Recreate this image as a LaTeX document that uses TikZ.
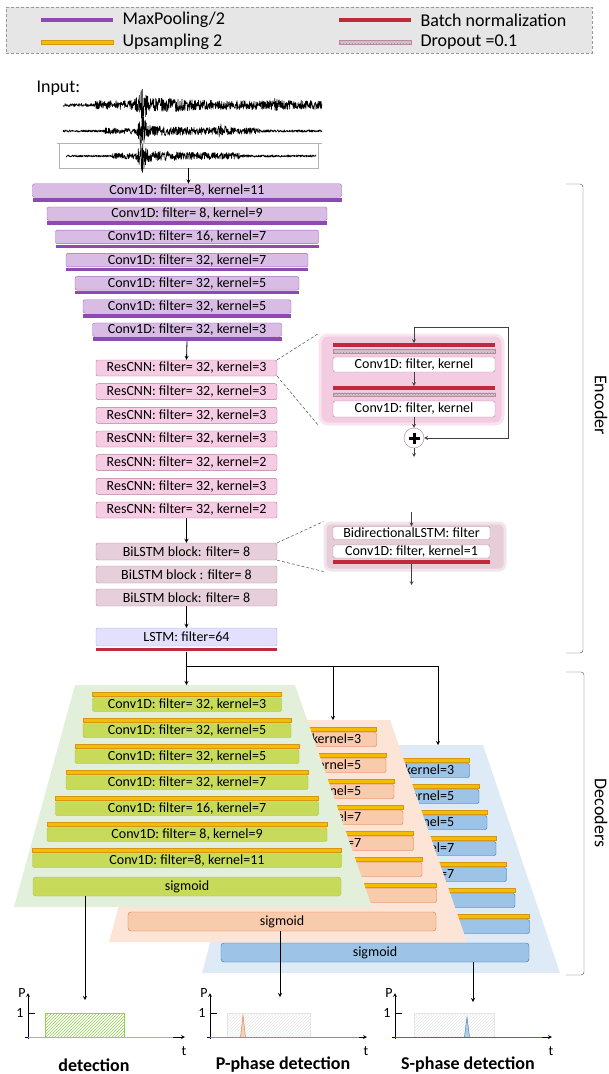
\documentclass[tikz,border=0pt]{standalone}
\usepackage{fontspec}
\setmainfont{Carlito}
\usetikzlibrary{patterns,calc}

\begin{document}
\begin{tikzpicture}[x=1pt, y=-1pt, >=stealth,
    declare function={
        wA(\x)=1.6+3*(\x>95)+11*exp(-min(((\x-142)/5)*((\x-142)/5),20))+2.5*exp(-min(((\x-165)/25)*((\x-165)/25),20))+2*exp(-min(((\x-275)/4)*((\x-275)/4),20));
        wB(\x)=1.1+2*(\x>105)*(\x<260)+12*exp(-min(((\x-142)/4)*((\x-142)/4),20))+3*(\x>140)*exp(-(\x-140)/40)+4.5*exp(-min(((\x-222)/4)*((\x-222)/4),20));
        wC(\x)=1+2*(\x>112)*(\x<240)+12*exp(-min(((\x-142)/4)*((\x-142)/4),20))+3*(\x>140)*exp(-(\x-140)/45);
    },
    lbl/.style={font=\fontsize{14}{16}\selectfont},
    big/.style={font=\fontsize{18}{20}\selectfont},
    blk/.style={rounded corners=2pt, inner sep=0pt, lbl},
    encbox/.style={blk, draw=encD, fill=encF, minimum height=13.5},
    resbox/.style={blk, draw=resD, fill=resF, minimum height=16, minimum width=181},
    bilbox/.style={blk, draw=bilD, fill=bilF, minimum height=17, minimum width=181},
    subbox/.style={blk, draw=resD, fill=white, minimum height=13},
    strip/.style={inner sep=0pt, minimum height=3.5},
    mpbar/.style={strip, fill=mpC},
    bnbar/.style={strip, fill=bnC},
    dobar/.style={strip, draw=bilD, preaction={fill=doF}, pattern=crosshatch dots, pattern color=gray!80},
    upbar/.style={strip, draw=upD, fill=upC},
    arr/.style={->, line width=0.8pt},
    subarr/.style={->, line width=0.7pt, black!75},
    zoomline/.style={densely dashed, black!70, line width=0.5pt},
    trace/.style={line width=0.6pt, line join=round}
]
    % Colours
    \definecolor{legF}{RGB}{231,230,230}
    \definecolor{encF}{RGB}{216,188,228}
    \definecolor{encD}{RGB}{160,100,190}
    \definecolor{mpC}{RGB}{142,74,178}
    \definecolor{resF}{RGB}{246,204,228}
    \definecolor{resD}{RGB}{180,120,155}
    \definecolor{resPan}{RGB}{244,204,226}
    \definecolor{bilF}{RGB}{230,207,218}
    \definecolor{bilD}{RGB}{178,140,160}
    \definecolor{bilPan}{RGB}{230,205,216}
    \definecolor{lstmF}{RGB}{226,224,252}
    \definecolor{lstmD}{RGB}{180,165,225}
    \definecolor{bnC}{RGB}{192,40,60}
    \definecolor{doF}{RGB}{215,195,205}
    \definecolor{upC}{RGB}{244,190,0}
    \definecolor{upD}{RGB}{214,150,20}
    \definecolor{gPan}{RGB}{226,239,218}
    \definecolor{gF}{RGB}{200,218,90}
    \definecolor{gD}{RGB}{165,192,60}
    \definecolor{gLine}{RGB}{146,208,80}
    \definecolor{oPan}{RGB}{252,228,214}
    \definecolor{oF}{RGB}{248,203,173}
    \definecolor{oD}{RGB}{222,120,60}
    \definecolor{bPan}{RGB}{222,235,247}
    \definecolor{bF}{RGB}{157,195,230}
    \definecolor{bD}{RGB}{46,117,182}

    \useasboundingbox (0,0) rectangle (609,1074);

    % 1. Legend
    \node[draw=gray!80, densely dashed, fill=legF, minimum width=586, minimum height=46, inner sep=0pt] (legend) at (299,30) {};
    \node[mpbar, minimum width=72] (lgmpbar) at (77,20) {};
    \node[big, anchor=west] (lgmp) at (119,20) {MaxPooling/2};
    \node[upbar, minimum width=72] (lgupbar) at (77,42) {};
    \node[big, anchor=west] (lgup) at (119,42) {Upsampling 2};
    \node[bnbar, minimum width=72] (lgbnbar) at (375,20) {};
    \node[big, anchor=west] (lgbn) at (417,20) {Batch normalization};
    \node[dobar, minimum width=72] (lgdobar) at (375,42) {};
    \node[big, anchor=west] (lgdo) at (417,42) {Dropout =0.1};

    % 2. Input traces
    \node[big, anchor=west] (inlab) at (33,88) {Input:};
    \pgfmathsetseed{41}
    \draw[trace] plot[domain=63:322, samples=900] (\x, {105+wA(\x)*rand});
    \draw[trace] plot[domain=63:322, samples=900] (\x, {131+wB(\x)*rand});
    \node[draw=gray!60, minimum width=259, minimum height=25, inner sep=0pt] (wave) at (188.5,155.5) {};
    \draw[gray!60] (57,143) -- (322,143);
    \draw[trace] plot[domain=66:316, samples=900] (\x, {156+wC(\x)*rand});

    % 3. Encoder
    \foreach \w/\txt [count=\i] in {309/{Conv1D: filter=8, kernel=11}, 280/{Conv1D: filter= 8, kernel=9},
            263/{Conv1D: filter= 16, kernel=7}, 242/{Conv1D: filter= 32, kernel=7},
            224/{Conv1D: filter= 32, kernel=5}, 208/{Conv1D: filter= 32, kernel=5},
            189/{Conv1D: filter= 32, kernel=3}} {
        \node[encbox, minimum width=\w] (enc\i) at (187, {190.5+23.2*(\i-1)}) {\txt};
        \node[mpbar, minimum width=\w, anchor=north] (mp\i) at ([yshift=-0.5pt]enc\i.south) {};
    }
    \draw[arr] (wave.south) -- (wave.south |- enc1.north);

    \foreach \k [count=\i] in {3,3,3,3,2,3,2}
        \node[resbox] (res\i) at (186.5, {368+23.67*(\i-1)}) {ResCNN: filter= 32, kernel=\k};
    \draw[arr] (mp7.south) -- (res1.north);

    \node[bilbox] (bil1) at (186.5,551.5) {BiLSTM block: filter= 8};
    \node[bilbox] (bil2) at (186.5,574.5) {BiLSTM block : filter= 8};
    \node[bilbox] (bil3) at (186.5,597.5) {BiLSTM block: filter= 8};
    \draw[arr] (res7.south) -- (bil1.north);

    \node[blk, draw=lstmD, fill=lstmF, minimum width=181, minimum height=18] (lstm) at (186.5,637) {LSTM: filter=64};
    \node[bnbar, minimum width=181, anchor=north] (lstmbn) at ([yshift=-1.5pt]lstm.south) {};
    \draw[arr] (bil3.south) -- (lstm.north);

    % 4. ResCNN detail
    \node[fill=resPan, draw=resPan!55, line width=3pt, rounded corners=8pt, minimum width=183, minimum height=89, inner sep=0pt] (respan) at (411.5,379.5) {};
    \node[bnbar, minimum width=162] (rbn1) at (414,345) {};
    \node[dobar, minimum width=162] (rdo1) at (414,351) {};
    \node[subbox, minimum width=162, minimum height=15] (rc1) at (414,364.5) {Conv1D: filter, kernel};
    \node[bnbar, minimum width=162] (rbn2) at (414,388) {};
    \node[dobar, minimum width=162] (rdo2) at (414,394.5) {};
    \node[subbox, minimum width=162, minimum height=16] (rc2) at (414,409) {Conv1D: filter, kernel};
    \node[circle, draw=resD, fill=white, minimum size=20, inner sep=0pt] (radd) at (414,438) {};
    \draw[line width=3pt] ($(radd)+(-5.5,0)$) -- ($(radd)+(5.5,0)$);
    \draw[line width=3pt] ($(radd)+(0,-5.5)$) -- ($(radd)+(0,5.5)$);
    \coordinate (rin) at (414,327);
    \coordinate (rskip) at (508,327);
    \coordinate (rout) at (414,457);
    \draw[subarr] (rin) -- (rbn1.north);
    \draw[subarr] (rin) -- (rskip) |- (radd.east);
    \draw[subarr] (rc1.south) -- (rbn2.north);
    \draw[subarr] (rc2.south) -- (radd.north);
    \draw[subarr] (radd.south) -- (rout);
    \draw[zoomline] (res1.north east) -- (respan.north west);
    \draw[zoomline] (res1.south east) -- (respan.south west);

    % 5. BiLSTM detail
    \node[fill=bilPan, draw=bilPan!55, line width=3pt, rounded corners=6pt, minimum width=180, minimum height=47, inner sep=0pt] (bilpan) at (415,546.5) {};
    \node[subbox, draw=bilD, minimum width=157] (bl1) at (411.5,533) {BidirectionalLSTM: filter};
    \node[subbox, draw=bilD, minimum width=157] (bl2) at (411.5,551.5) {Conv1D: filter, kernel=1};
    \node[bnbar, minimum width=157] (bbn) at (411.5,562) {};
    \coordinate (bin) at (411.5,512);
    \coordinate (bout) at (411.5,585);
    \draw[subarr] (bin) -- (bl1.north);
    \draw[subarr] (bbn.south) -- (bout);
    \draw[zoomline] (bil1.north east) -- (bilpan.north west);
    \draw[zoomline] (bil1.south east) -- (bilpan.south west);

    % 6. Decoders
    % \decstack{shift}{prefix}{panel}{fill}{border}{panel top}
    \newcommand{\decstack}[6]{
        \begin{scope}[shift={#1}]
            \fill[#3] (75,#6) -- (295,#6) -- (372,907) -- (14,907) -- cycle;
            \foreach \w/\txt [count=\i] in {189/{Conv1D: filter= 32, kernel=3}, 208/{Conv1D: filter= 32, kernel=5},
                    224/{Conv1D: filter= 32, kernel=5}, 242/{Conv1D: filter= 32, kernel=7},
                    263/{Conv1D: filter= 16, kernel=7}, 280/{Conv1D: filter= 8, kernel=9},
                    309/{Conv1D: filter=8, kernel=11}} {
                \node[blk, draw=#5, fill=#4, minimum width=\w, minimum height=14] (#2\i) at (187, {704.5+26*(\i-1)}) {\txt};
                \node[upbar, minimum width=\w, anchor=south] (#2up\i) at ([yshift=1.2pt]#2\i.north) {};
            }
            \node[blk, draw=#5, fill=#4, minimum width=308, minimum height=19, rounded corners=3pt] (#2sig) at (187,886.5) {sigmoid};
        \end{scope}
    }
    \decstack{(188,66)}{b}{bPan}{bF}{bD}{679}
    \decstack{(95,35)}{o}{oPan}{oF}{oD}{685}
    \decstack{(0,0)}{g}{gPan}{gF}{gD}{685}

    \coordinate (split) at (186.5,666);
    \coordinate (gtop) at (186.5,685);
    \coordinate (otop) at (333,720);
    \coordinate (btop) at (438,745);
    \draw[line width=0.8pt] (lstmbn.south) -- (split);
    \draw[arr] (split) -- (gtop);
    \draw[arr] (split) -| (otop);
    \draw[arr] (split) -| (btop);

    % 7. Outputs
    \newcommand{\probaxes}[2]{
        \begin{scope}[shift={(#1,1037)}]
            \draw[line width=0.8pt, ->] (0,2) -- (0,-44);
            \draw[line width=0.8pt, ->] (-3,0) -- (157,0);
            \draw[line width=0.8pt] (0,-24) -- (7,-24);
            \node[lbl, anchor=east] (#2one) at (-1,-24) {1};
            \node[lbl] (#2p) at (-6,-44) {P};
            \node[lbl] (#2t) at (156,14) {t};
        \end{scope}
    }
    \probaxes{28}{pd}
    \probaxes{210}{pp}
    \probaxes{395}{ps}

    \fill[pattern=north east lines, pattern color=gLine] (45,1013) rectangle (124,1037);
    \draw[gLine, line width=0.8pt] (45,1037) -- (45,1013) -- (124,1013) -- (124,1037);
    \draw[gLine, line width=0.8pt] (28,1037) -- (173,1037);

    \fill[pattern=north east lines, pattern color=gray!20] (227,1013) rectangle (310,1037);
    \draw[gray!20] (227,1013) rectangle (310,1037);
    \filldraw[draw=oD, fill=oD!35] (240.5,1037) -- (243,1015) -- (245.5,1037);
    \draw[oD, line width=0.8pt] (210,1037) -- (359,1037);

    \fill[pattern=north east lines, pattern color=gray!20] (414,1013) rectangle (494,1037);
    \draw[gray!20] (414,1013) rectangle (494,1037);
    \filldraw[draw=bD, fill=bD!35] (464.5,1037) -- (467,1017) -- (469.5,1037);
    \draw[bD, line width=0.8pt] (395,1037) -- (542,1037);

    \coordinate (gout) at (85,1000);
    \coordinate (oout) at (280,997);
    \coordinate (bout2) at (473,1002);
    \draw[arr] (gsig.south -| gout) -- (gout);
    \draw[arr] (osig.south -| oout) -- (oout);
    \draw[arr] (bsig.south -| bout2) -- (bout2);

    \node[big, font=\fontsize{18}{20}\selectfont\bfseries] (capd) at (94,1065) {detection};
    \node[big, font=\fontsize{18}{20}\selectfont\bfseries] (capp) at (283,1065) {P-phase detection};
    \node[big, font=\fontsize{18}{20}\selectfont\bfseries] (caps) at (468,1065) {S-phase detection};

    % 8. Brackets
    \draw[black!70, rounded corners=3pt] (566,184) -- (583,184) -- (583,653) -- (566,653);
    \node[big, rotate=-90] (enclab) at (601,405) {Encoder};
    \draw[black!70, rounded corners=3pt] (566,672) -- (584,672) -- (584,975) -- (566,975);
    \node[big, rotate=-90] (declab) at (601,813) {Decoders};

\end{tikzpicture}
\end{document}
